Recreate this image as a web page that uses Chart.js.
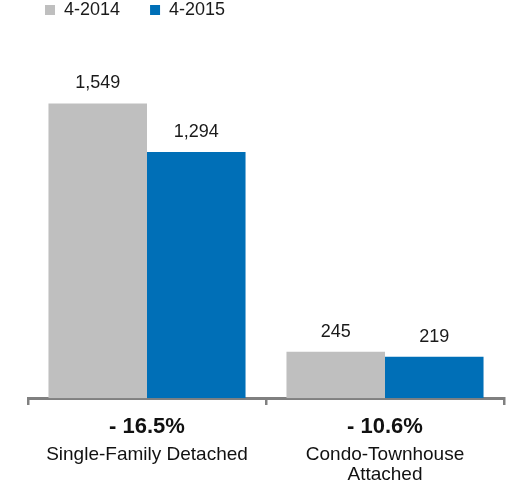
<!DOCTYPE html>
<html>
<head>
<meta charset="utf-8">
<script src="https://cdn.jsdelivr.net/npm/chart.js@4"></script>
<style>
  html, body { margin: 0; padding: 0; background: #ffffff; }
  #wrap { width: 512px; height: 486px; position: relative; }
</style>
</head>
<body>
<div id="wrap"><canvas id="chart" width="512" height="486"></canvas></div>
<script>
// Closed sales by property type, April 2014 vs April 2015
const categories = ['Single-Family Detached', ['Condo-Townhouse', 'Attached']];
const changeLabels = ['- 16.5%', '- 10.6%'];
const seriesNames = ['4-2014', '4-2015'];
const sales2014 = [1549, 245];
const sales2015 = [1294, 219];

const GRAY = '#bfbfbf';
const BLUE = '#006fb7';
const TEXT = '#1a1a1a';
const AXIS = '#808080';

Chart.defaults.font.family = "'Liberation Sans', Arial, Helvetica, sans-serif";
Chart.defaults.color = TEXT;

// Prints each bar's value above it
const valueLabels = {
  id: 'valueLabels',
  afterDatasetsDraw(chart) {
    const ctx = chart.ctx;
    ctx.save();
    ctx.font = "18px 'Liberation Sans', Arial, sans-serif";
    ctx.fillStyle = TEXT;
    ctx.textAlign = 'center';
    ctx.textBaseline = 'alphabetic';
    chart.data.datasets.forEach((ds, di) => {
      const meta = chart.getDatasetMeta(di);
      meta.data.forEach((bar, i) => {
        ctx.fillText(ds.data[i].toLocaleString('en-US'), bar.x, bar.y - 15);
      });
    });
    ctx.restore();
  }
};

new Chart(document.getElementById('chart'), {
  type: 'bar',
  data: {
    labels: changeLabels,
    datasets: [
      { label: seriesNames[0], data: sales2014, backgroundColor: GRAY, borderWidth: 0 },
      { label: seriesNames[1], data: sales2015, backgroundColor: BLUE, borderWidth: 0 }
    ]
  },
  options: {
    responsive: false,
    animation: false,
    events: [],
    layout: { padding: { top: -29, left: 15, right: 8, bottom: 0.35 } },
    datasets: { bar: { categoryPercentage: 0.828, barPercentage: 1.0 } },
    plugins: {
      legend: {
        position: 'top',
        align: 'start',
        labels: {
          boxWidth: 10,
          boxHeight: 10,
          padding: 30,
          color: TEXT,
          font: { size: 18 }
        }
      },
      tooltip: { enabled: false }
    },
    scales: {
      x: {
        type: 'category',
        position: 'bottom',
        weight: 0,
        grid: {
          display: true,
          offset: true,
          drawOnChartArea: false,
          drawTicks: true,
          tickLength: 12.4,
          tickBorderDash: [5, 60],
          color: AXIS,
          lineWidth: 2.5
        },
        border: { display: true, color: AXIS, width: 3 },
        ticks: {
          padding: 3.35,
          color: '#111111',
          maxRotation: 0,
          autoSkip: false,
          font: { size: 22, weight: 'bold', lineHeight: 1.2 }
        }
      },
      x2: {
        type: 'category',
        position: 'bottom',
        weight: 1,
        labels: categories,
        offset: true,
        grid: { display: false, drawTicks: false },
        border: { display: false },
        ticks: {
          padding: 0,
          color: '#111111',
          maxRotation: 0,
          autoSkip: false,
          font: { size: 19, lineHeight: 1.1 }
        }
      },
      y: {
        display: true,
        min: 0,
        max: 1940,
        grid: { display: false },
        border: { display: false },
        ticks: { display: false },
        afterFit(scale) { scale.width = 13; }
      }
    }
  },
  plugins: [valueLabels]
});
</script>
</body>
</html>
